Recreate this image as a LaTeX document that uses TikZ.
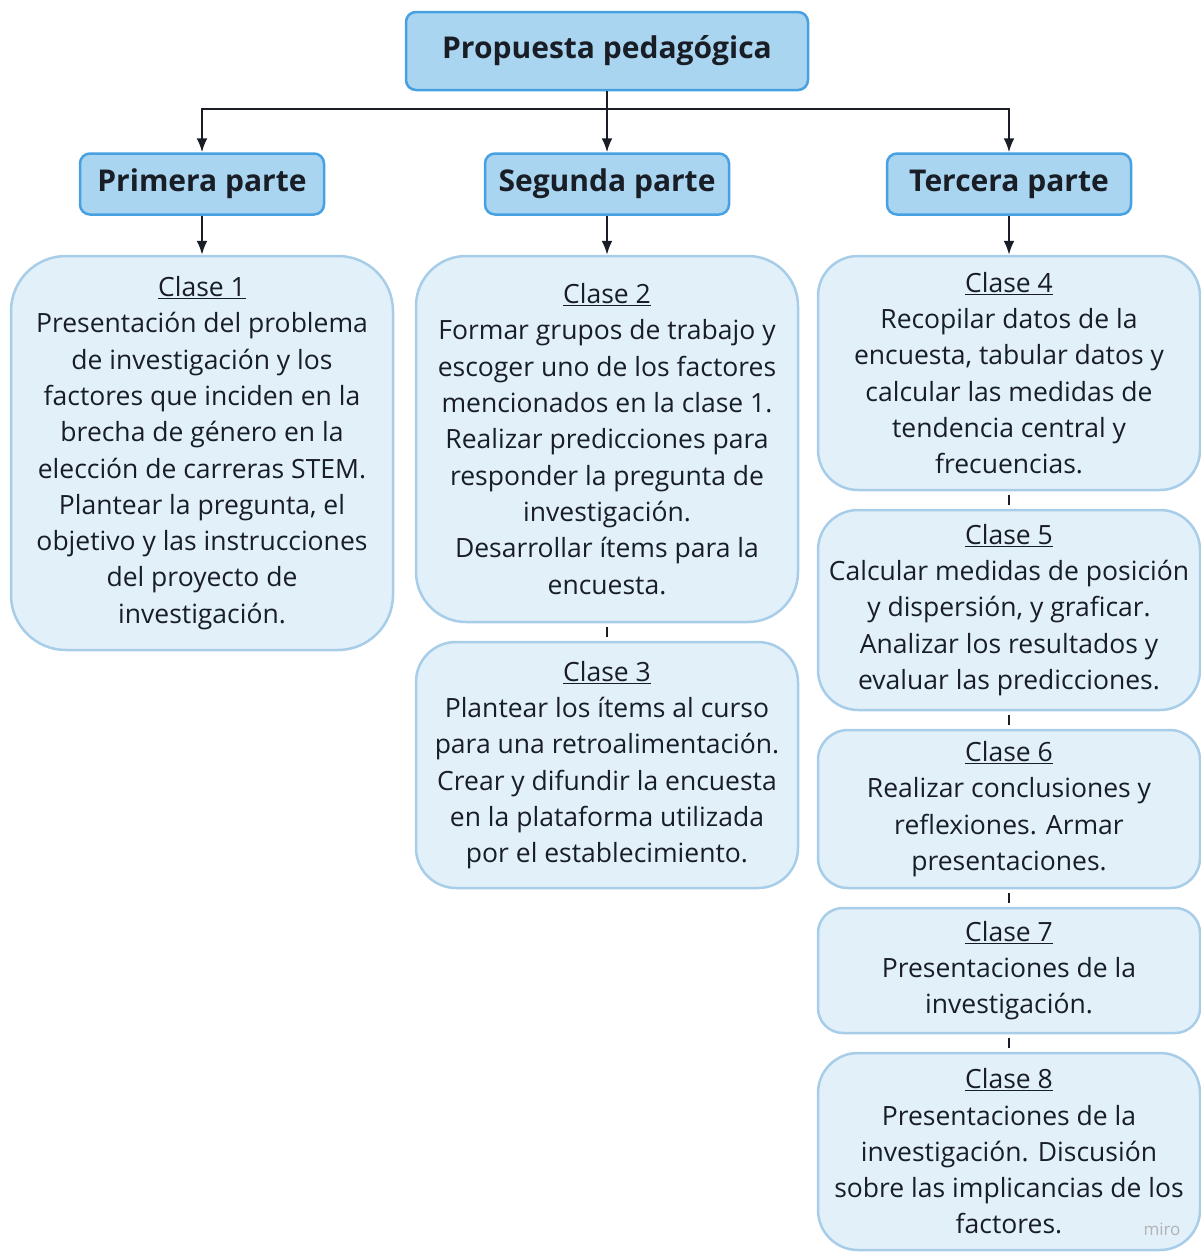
\documentclass[tikz,border=0pt]{standalone}
\usepackage{fontspec}
\setmainfont{Open Sans}
\usetikzlibrary{arrows.meta,positioning}
\definecolor{partfill}{RGB}{170,213,240}
\definecolor{partline}{RGB}{70,160,225}
\definecolor{clasefill}{RGB}{226,240,250}
\definecolor{claseline}{RGB}{168,205,232}
\definecolor{ink}{RGB}{25,30,38}

\begin{document}
\begin{tikzpicture}[x=1pt,y=-1pt,>={Latex[length=14pt,width=11pt]}]
    \tikzstyle{box}=[draw, inner sep=0pt, align=center, text=ink]
    \tikzstyle{part}=[box, fill=partfill, draw=partline, line width=2.5pt, rounded corners=10pt, font=\bfseries\fontsize{30}{34}\selectfont]
    \tikzstyle{clase}=[box, fill=clasefill, draw=claseline, line width=2.5pt, rounded corners=40pt, minimum width=382pt, font=\fontsize{26.5}{36.3}\selectfont]
    \tikzstyle{link}=[draw=ink, line width=2pt]

    \useasboundingbox (0,0) rectangle (1201,1254);

    % Draw the title and the three parts.
    \node[part, minimum width=402pt, minimum height=78pt] (top) at (607,51) {Propuesta pedagógica};
    \node[part, minimum width=244pt, minimum height=61pt] (P-1) at (202,184) {Primera parte};
    \node[part, minimum width=244pt, minimum height=61pt] (P-2) at (607,184) {Segunda parte};
    \node[part, minimum width=244pt, minimum height=61pt] (P-3) at (1009,184) {Tercera parte};

    % Draw the classes.
    \node[clase, minimum height=394pt, rounded corners=55pt] (C-1) at (202,453) {\underline{Clase 1}\\Presentación del problema\\de investigación y los\\factores que inciden en la\\brecha de género en la\\elección de carreras STEM.\\Plantear la pregunta, el\\objetivo y las instrucciones\\del proyecto de\\investigación.};
    \node[clase, minimum height=366pt, rounded corners=50pt] (C-2) at (607,439) {\underline{Clase 2}\\Formar grupos de trabajo y\\escoger uno de los factores\\mencionados en la clase 1.\\Realizar predicciones para\\responder la pregunta de\\investigación.\\Desarrollar ítems para la\\encuesta.};
    \node[clase, minimum height=246pt] (C-3) at (607,765) {\underline{Clase 3}\\Plantear los ítems al curso\\para una retroalimentación.\\Crear y difundir la encuesta\\en la plataforma utilizada\\por el establecimiento.};
    \node[clase, minimum height=234pt] (C-4) at (1009,373) {\underline{Clase 4}\\Recopilar datos de la\\encuesta, tabular datos y\\calcular las medidas de\\tendencia central y\\frecuencias.};
    \node[clase, minimum height=200pt] (C-5) at (1009,610) {\underline{Clase 5}\\Calcular medidas de posición\\y dispersión, y graficar.\\Analizar los resultados y\\evaluar las predicciones.};
    \node[clase, minimum height=158pt, rounded corners=30pt] (C-6) at (1009,809) {\underline{Clase 6}\\Realizar conclusiones y\\reflexiones. Armar\\presentaciones.};
    \node[clase, minimum height=125pt, rounded corners=25pt] (C-7) at (1009,970.5) {\underline{Clase 7}\\Presentaciones de la\\investigación.};
    \node[clase, minimum height=197pt] (C-8) at (1009,1151.5) {\underline{Clase 8}\\Presentaciones de la\\investigación. Discusión\\sobre las implicancias de los\\factores.};

    % Connect the title with the parts.
    \path (top.south) ++(0,18) coordinate (split);
    \foreach \p in {1,2,3}
        \draw[link,->] (top.south) -- (split) -| (P-\p.north);

    % Connect the parts with their first class.
    \foreach \p / \c in {1/1,2/2,3/4}
        \draw[link,->] (P-\p) -- (C-\c);

    % Chain the classes.
    \foreach \a / \b in {2/3,4/5,5/6,6/7,7/8}
        \draw[link, shorten <=4pt, shorten >=4pt] (C-\a) -- (C-\b);

    \node[text=black!30, font=\fontsize{17}{17}\selectfont] (miro) at (1162,1229) {miro};
\end{tikzpicture}
\end{document}
